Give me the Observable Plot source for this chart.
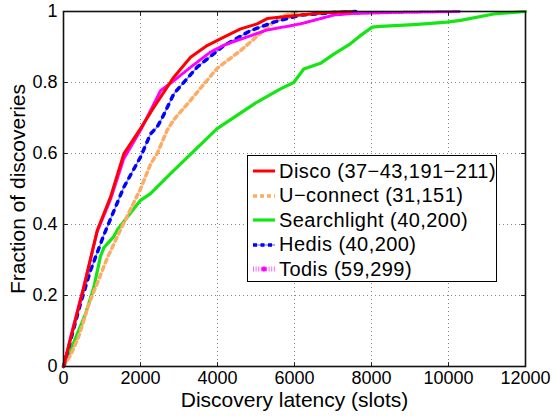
<!DOCTYPE html>
<html><head><meta charset="utf-8">
<script src="https://cdn.jsdelivr.net/npm/d3@7"></script>
<script src="https://cdn.jsdelivr.net/npm/@observablehq/plot@0.6"></script>
<style>
body{margin:0;background:#fff;}
#wrap{position:relative;width:555px;height:416px;font-family:"Liberation Sans",Arial,sans-serif;}
#legend{position:absolute;left:247px;top:155px;width:250px;height:127px;border:1.5px solid #000;background:#fff;box-sizing:border-box;}
.row{position:absolute;left:0;height:24px;display:flex;align-items:center;font-size:20px;letter-spacing:0.45px;color:#000;white-space:nowrap;}
.row svg{margin-left:5px;margin-right:4px;}
</style></head><body>
<div id="wrap"><div id="chart"></div><div id="legend"></div></div>
<script>
const xTicks = [0, 2000, 4000, 6000, 8000, 10000, 12000];
const yTicks = [0, 0.2, 0.4, 0.6, 0.8, 1];
const seriesNames = ["Disco (37\u221243,191\u2212211)", "U\u2212connect (31,151)", "Searchlight (40,200)", "Hedis (40,200)", "Todis (59,299)"];

const discoX = [0, 200, 527, 875, 1220, 1566, 2000, 2345, 2865, 3300, 3730, 4165, 4600, 5030, 5290, 6155, 6850, 7500];
const discoY = [0, 0.085, 0.223, 0.383, 0.477, 0.599, 0.67, 0.73, 0.815, 0.871, 0.904, 0.928, 0.951, 0.965, 0.98, 0.99, 0.997, 1];

const uconnX = [0, 200, 397, 657, 1135, 1480, 2000, 2260, 2433, 2690, 2865, 3300, 3990, 4600, 5290, 5636, 6100];
const uconnY = [0, 0.035, 0.085, 0.175, 0.305, 0.385, 0.5, 0.57, 0.6, 0.665, 0.695, 0.75, 0.84, 0.89, 0.955, 0.985, 1];

const searchX = [0, 200, 571, 788, 960, 1050, 1300, 1400, 2000, 2260, 2780, 3990, 5030, 5636, 5980, 6240, 6675, 7020, 7450, 7710, 8020, 8230, 9100, 9965, 10310, 11175, 12000];
const searchY = [0, 0.05, 0.148, 0.223, 0.31, 0.335, 0.365, 0.385, 0.468, 0.487, 0.543, 0.67, 0.745, 0.782, 0.8, 0.838, 0.854, 0.88, 0.909, 0.932, 0.956, 0.958, 0.963, 0.97, 0.975, 0.993, 1];

const hedisX = [0, 200, 440, 700, 1046, 1566, 2000, 2260, 2433, 2563, 2865, 3470, 4165, 4856, 5460, 6155, 7020, 7600];
const hedisY = [0, 0.08, 0.177, 0.27, 0.37, 0.505, 0.59, 0.655, 0.675, 0.70, 0.768, 0.843, 0.904, 0.946, 0.97, 0.99, 0.997, 1];

const todisX = [0, 200, 527, 875, 1220, 1566, 2000, 2520, 2865, 3300, 3820, 4165, 4420, 5290, 6155, 6500, 7020, 7450, 8500, 10300];
const todisY = [0, 0.09, 0.225, 0.38, 0.47, 0.585, 0.665, 0.777, 0.805, 0.843, 0.886, 0.905, 0.915, 0.948, 0.965, 0.975, 0.99, 0.994, 0.997, 1];

const toPts = (xs, ys) => xs.map((x, i) => ({x, y: ys[i]}));
const disco = toPts(discoX, discoY), uconn = toPts(uconnX, uconnY), search = toPts(searchX, searchY), hedis = toPts(hedisX, hedisY), todis = toPts(todisX, todisY);

const tickShape = {draw(ctx, l) { ctx.moveTo(0, 0); ctx.lineTo(0, -l); }};
const FONT = "Liberation Sans, Arial, sans-serif";

const chart = Plot.plot({
  width: 555, height: 416,
  marginLeft: 63, marginRight: 30, marginTop: 11, marginBottom: 50,
  style: {fontFamily: FONT, background: "#fff"},
  x: {domain: [0, 12000]},
  y: {domain: [0, 1]},
  marks: [
    Plot.gridX(xTicks, {stroke: "#888", strokeOpacity: 1, strokeDasharray: "1,3"}),
    Plot.gridY(yTicks, {stroke: "#888", strokeOpacity: 1, strokeDasharray: "1,3"}),
    Plot.line(search, {x: "x", y: "y", stroke: "#14e614", strokeWidth: 3.2}),
    Plot.line(uconn, {x: "x", y: "y", stroke: "#fdac66", strokeWidth: 3.5, strokeDasharray: "4,4"}),
    Plot.line(hedis, {x: "x", y: "y", stroke: "#8d8dff", strokeWidth: 1.5}),
    Plot.line(hedis, {x: "x", y: "y", stroke: "#0000ff", strokeWidth: 3.5, strokeDasharray: "4,6"}),
    Plot.line(todis, {x: "x", y: "y", stroke: "#ff00ff", strokeWidth: 3, strokeDasharray: "1,1.6"}),
    Plot.line(disco, {x: "x", y: "y", stroke: "#ff0000", strokeWidth: 3}),
    Plot.vector(xTicks, {x: d => d, y: 0, length: 4, rotate: 0, anchor: "start", shape: tickShape, stroke: "#222", strokeWidth: 1}),
    Plot.vector(xTicks, {x: d => d, y: 1, length: 4, rotate: 180, anchor: "start", shape: tickShape, stroke: "#222", strokeWidth: 1}),
    Plot.vector(yTicks, {x: 0, y: d => d, length: 4, rotate: 90, anchor: "start", shape: tickShape, stroke: "#222", strokeWidth: 1}),
    Plot.vector(yTicks, {x: 12000, y: d => d, length: 4, rotate: 270, anchor: "start", shape: tickShape, stroke: "#222", strokeWidth: 1}),
    Plot.frame({stroke: "#111", strokeWidth: 1.6}),
    Plot.axisX(xTicks, {tickSize: 0, tickPadding: 5, fontSize: 18, label: null, tickFormat: d => String(d)}),
    Plot.axisY(yTicks, {tickSize: 0, tickPadding: 6, fontSize: 18, label: null, tickFormat: d => String(d)}),
    Plot.text(["Discovery latency (slots)"], {frameAnchor: "bottom", lineAnchor: "middle", dy: 34, fontSize: 21, fill: "#000"}),
    Plot.text(["Fraction of discoveries"], {frameAnchor: "left", textAnchor: "middle", lineAnchor: "middle", dx: -45, rotate: -90, fontSize: 21, fill: "#000"})
  ]
});
document.getElementById("chart").appendChild(chart);

// legend
const legendStyles = [
  {layers: [{stroke: "#ff0000", w: 3, dash: null}]},
  {layers: [{stroke: "#fdac66", w: 3.5, dash: "4,3"}]},
  {layers: [{stroke: "#14e614", w: 3.2, dash: null}]},
  {layers: [{stroke: "#8d8dff", w: 1.5, dash: null}, {stroke: "#0000ff", w: 3.5, dash: "4,3.5"}]},
  {layers: [{stroke: "#ff66ff", w: 5, dash: "1,1.6"}], dot: "#ff00ff"}
];
const legend = document.getElementById("legend");
seriesNames.forEach((name, i) => {
  const row = document.createElement("div");
  row.className = "row";
  row.style.top = (3 + i * 24.5) + "px";
  const st = legendStyles[i];
  let svg = `<svg width="22" height="12">`;
  st.layers.forEach(l => { svg += `<line x1="0" x2="22" y1="6" y2="6" stroke="${l.stroke}" stroke-width="${l.w}" ${l.dash ? `stroke-dasharray="${l.dash}"` : ""}/>`; });
  if (st.dot) svg += `<circle cx="11" cy="6" r="2.5" fill="${st.dot}"/>`;
  svg += `</svg>`;
  row.innerHTML = svg + `<span>${name}</span>`;
  legend.appendChild(row);
});
</script>
</body></html>
